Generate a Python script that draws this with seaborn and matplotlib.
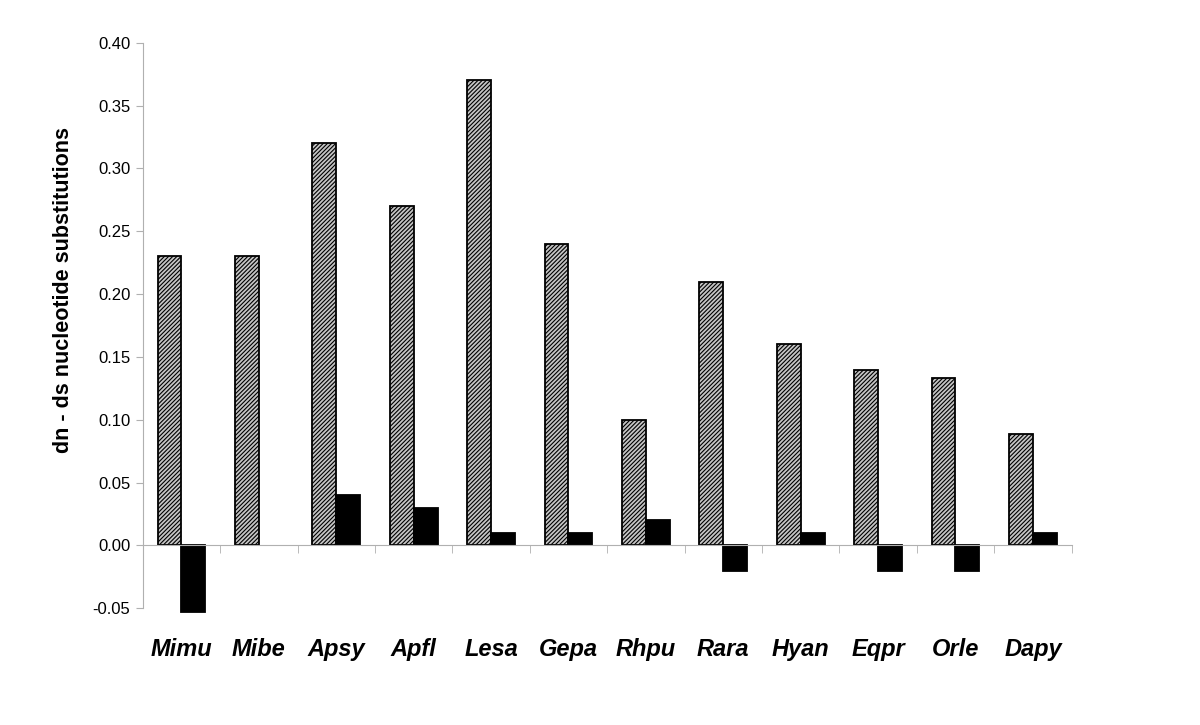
import matplotlib
matplotlib.use("Agg")
import matplotlib.pyplot as plt
import seaborn as sns
import pandas as pd
from matplotlib.ticker import FormatStrFormatter

# species codes along the x axis
species = ["Mimu", "Mibe", "Apsy", "Apfl", "Lesa", "Gepa",
           "Rhpu", "Rara", "Hyan", "Eqpr", "Orle", "Dapy"]
# hatched (gray) bars
series_a = [0.23, 0.23, 0.32, 0.27, 0.37, 0.24,
            0.10, 0.21, 0.16, 0.14, 0.133, 0.089]
# solid black bars
series_b = [-0.053, 0.0, 0.04, 0.03, 0.01, 0.01,
            0.02, -0.02, 0.01, -0.02, -0.02, 0.01]
yticks = [-0.05, 0.00, 0.05, 0.10, 0.15, 0.20, 0.25, 0.30, 0.35, 0.40]

df = pd.DataFrame({
    "species": species * 2,
    "value": series_a + series_b,
    "serie": ["a"] * len(species) + ["b"] * len(species),
})

sns.set_style("white")
plt.rcParams["font.family"] = ["Liberation Sans", "DejaVu Sans"]
plt.rcParams["text.color"] = "black"
plt.rcParams["axes.labelcolor"] = "black"
plt.rcParams["xtick.color"] = "black"
plt.rcParams["ytick.color"] = "black"
plt.rcParams["hatch.color"] = "#404040"
plt.rcParams["hatch.linewidth"] = 0.8

fig = plt.figure(figsize=(12, 7.25), dpi=100)
ax = fig.add_axes([0.119, 0.161, 0.774, 0.78])

sns.barplot(data=df, x="species", y="value", hue="serie",
            palette={"a": "#c4c4c4", "b": "black"}, width=0.62,
            edgecolor="black", linewidth=1.3, legend=False, ax=ax)

n = len(species)
for i, patch in enumerate(ax.patches):
    patch.set_clip_on(False)
    if i < n:
        patch.set_hatch("////////")
    elif patch.get_height() == 0:
        patch.set_visible(False)

ax.set_xlim(-0.5, n - 0.5)
ax.set_ylim(-0.05, 0.40)
ax.set_yticks(yticks)
ax.yaxis.set_major_formatter(FormatStrFormatter("%.2f"))
ax.tick_params(axis="y", which="major", left=True, length=5, color="#b0b0b0",
               labelsize=12, pad=4)

ax.spines["top"].set_visible(False)
ax.spines["right"].set_visible(False)
ax.spines["left"].set_color("#b0b0b0")
ax.spines["bottom"].set_color("#b0b0b0")
ax.spines["bottom"].set_position(("data", 0))

# category labels under the chart, boundary tick marks on the zero line
ax.set_xticks(range(n))
ax.set_xticklabels(species, fontsize=17, fontweight="bold", fontstyle="italic")
ax.tick_params(axis="x", which="major", length=0, pad=67)
ax.set_xticks([i + 0.5 for i in range(n)], minor=True)
ax.tick_params(axis="x", which="minor", bottom=True, length=6, color="#b0b0b0")

ax.set_xlabel("")
ax.set_ylabel("dn - ds nucleotide substitutions", fontsize=15.5, fontweight="bold")
ax.yaxis.set_label_coords(-0.074, 0.563)

fig.savefig("out.png", dpi=100)
